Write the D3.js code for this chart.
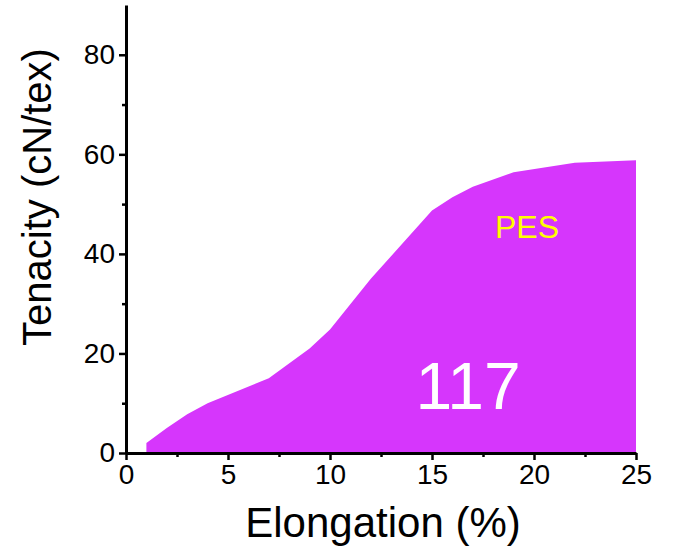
<!DOCTYPE html>
<html>
<head>
<meta charset="utf-8">
<script src="https://cdn.jsdelivr.net/npm/d3@7"></script>
<style>
  body { margin: 0; background: #fff; }
  svg { font-family: Arial, "Liberation Sans", sans-serif; }
</style>
</head>
<body>
<div id="chart"></div>
<script>
// tenacity vs elongation, PES
const elongation = [1, 2, 3, 4, 7, 9, 10, 12, 15, 16, 17, 19, 22, 25];
const tenacity = [2, 5, 7.8, 10, 15, 21, 24.8, 35, 48.7, 51.4, 53.5, 56.4, 58.3, 58.8];
const xTicks = [0, 5, 10, 15, 20, 25];
const yTicks = [0, 20, 40, 60, 80];
const seriesName = "PES";
const sampleLabel = "117";

const width = 684, height = 553;
const margin = { left: 126, right: 48, top: 5, bottom: 100 };

const svg = d3.select("#chart").append("svg")
    .attr("width", width)
    .attr("height", height);

const x = d3.scaleLinear().domain([0, 25]).range([margin.left, width - margin.right]);
const y = d3.scaleLinear().domain([0, 90]).range([height - margin.bottom, margin.top]);

const pts = elongation.map((e, i) => [e, tenacity[i]]);

const area = d3.area()
    .x(d => x(d[0]))
    .y0(y(0))
    .y1(d => y(d[1]));

svg.append("path")
    .datum(pts)
    .attr("d", area)
    .attr("fill", "#d636fc");

// minor ticks
const xMinor = d3.range(2.5, 25, 5);
const yMinor = d3.range(10, 90, 20);

svg.append("g")
    .attr("transform", `translate(0,${y(0)})`)
    .call(d3.axisBottom(x).tickValues(xTicks).tickSize(7).tickPadding(4).tickSizeOuter(0));

svg.append("g")
    .attr("transform", `translate(0,${y(0)})`)
    .call(d3.axisBottom(x).tickValues(xMinor).tickSize(4).tickFormat("").tickSizeOuter(0))
    .select(".domain").remove();

svg.append("g")
    .attr("transform", `translate(${x(0)},0)`)
    .call(d3.axisLeft(y).tickValues(yTicks).tickSize(7).tickPadding(4).tickSizeOuter(0));

svg.append("g")
    .attr("transform", `translate(${x(0)},0)`)
    .call(d3.axisLeft(y).tickValues(yMinor).tickSize(4).tickFormat("").tickSizeOuter(0))
    .select(".domain").remove();

svg.selectAll(".domain").attr("stroke-width", 3);
svg.selectAll(".tick line").attr("stroke-width", 2.5);
svg.selectAll(".tick text")
    .attr("font-size", 28)
    .attr("font-family", "Arial, 'Liberation Sans', sans-serif")
    .attr("fill", "#000");

svg.append("text")
    .attr("x", 383)
    .attr("y", 537)
    .attr("text-anchor", "middle")
    .attr("font-size", 42)
    .text("Elongation (%)");

svg.append("text")
    .attr("transform", `translate(51,197) rotate(-90)`)
    .attr("text-anchor", "middle")
    .attr("font-size", 40)
    .text("Tenacity (cN/tex)");

svg.append("text")
    .attr("x", 527)
    .attr("y", 238)
    .attr("text-anchor", "middle")
    .attr("font-size", 32)
    .attr("fill", "#ffff00")
    .text(seriesName);

svg.append("text")
    .attr("x", 468)
    .attr("y", 409)
    .attr("text-anchor", "middle")
    .attr("font-size", 66)
    .attr("fill", "#fff")
    .text(sampleLabel);
</script>
</body>
</html>
